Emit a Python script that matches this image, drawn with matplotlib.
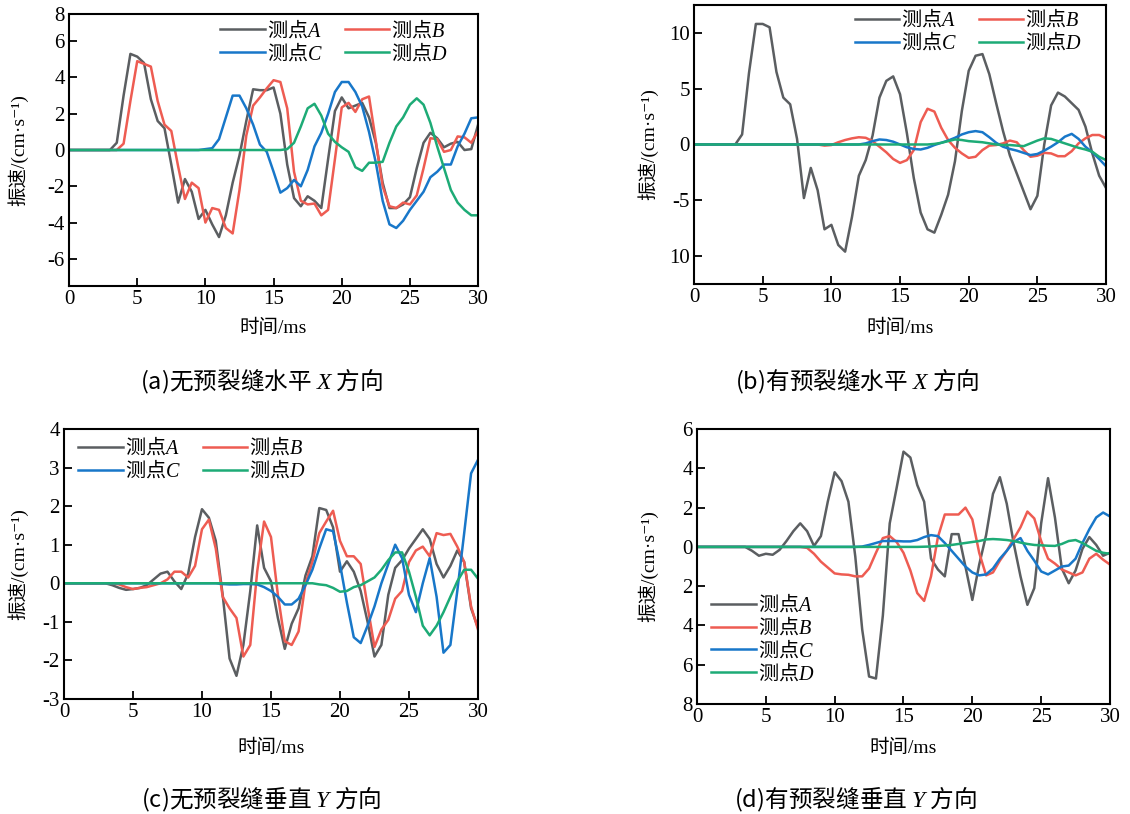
import numpy as np
import matplotlib
matplotlib.use("Agg")
import matplotlib.pyplot as plt
import matplotlib.transforms as mtransforms

plt.rcParams['font.family'] = ['Liberation Serif', 'Noto Sans CJK SC', 'DejaVu Serif']
plt.rcParams['mathtext.fontset'] = 'custom'
plt.rcParams['mathtext.rm'] = 'Liberation Serif'
plt.rcParams['mathtext.it'] = 'Liberation Serif:italic'
plt.rcParams['axes.unicode_minus'] = False

# time axis, ms (0.5 ms sampling)
t = np.arange(0, 30.5, 0.5)

# (a) no pre-crack, horizontal X
a_A = [0, 0, 0, 0, 0, 0, 0,
       0.4, 3.0, 5.3, 5.15, 4.8, 2.8, 1.6, 1.2, -0.8, -2.9,
       -1.6, -2.3, -3.8, -3.3, -4.1, -4.8, -3.6, -1.8, -0.3, 1.6,
       3.35, 3.3, 3.3, 3.45, 2.0, -0.8, -2.65, -3.1, -2.55, -2.8,
       -3.2, -0.5, 2.15, 2.9, 2.3, 2.45, 2.6, 1.8, 0.4, -1.8,
       -3.2, -3.2, -3.0, -2.6, -1.0, 0.4, 0.95, 0.65, 0.15, 0.35,
       0.45, 0.0, 0.05, 1.4]
a_B = [0, 0, 0, 0, 0, 0, 0, 0,
       0.35, 2.7, 4.9, 4.75, 4.6, 2.7, 1.4, 1.05, -0.9, -2.7,
       -1.8, -2.1, -4.0, -3.2, -3.3, -4.3, -4.6, -2.2, 0.8, 2.45,
       2.9, 3.4, 3.85, 3.75, 2.3, -1.2, -2.8, -3.0, -2.95, -3.6,
       -3.3, -0.5, 2.35, 2.6, 2.1, 2.8, 2.95, 0.5, -2.0, -3.1,
       -3.2, -2.9, -3.0, -2.5, -1.0, 0.65, 0.6, -0.1, 0.0, 0.75,
       0.7, 0.4, 1.05]
a_C = [0, 0, 0, 0, 0, 0, 0, 0, 0, 0, 0, 0, 0, 0, 0, 0, 0, 0, 0, 0,
       0.05, 0.1, 0.6, 1.8, 3.0, 3.0, 2.3, 1.4, 0.3, -0.1,
       -1.2, -2.35, -2.1, -1.65, -2.0, -1.1, 0.2, 0.95, 2.0, 3.2,
       3.75, 3.75, 3.2, 2.4, 1.0, -0.7, -2.8, -4.1, -4.3, -3.9,
       -3.3, -2.8, -2.3, -1.5, -1.2, -0.8, -0.8, 0.2, 0.9, 1.75,
       1.8]
a_D = [0, 0, 0, 0, 0, 0, 0, 0, 0, 0, 0, 0, 0, 0, 0, 0,
       0, 0, 0, 0, 0, 0, 0, 0, 0, 0, 0, 0, 0, 0, 0, 0,
       0.05, 0.4, 1.3, 2.3, 2.55, 1.9, 0.9, 0.45, 0.15, -0.1,
       -0.95, -1.15, -0.7, -0.7, -0.65, 0.4, 1.3, 1.8, 2.5, 2.85,
       2.5, 1.5, 0.2, -1.0, -2.2, -2.9, -3.3, -3.6, -3.6]

# (b) with pre-crack, horizontal X
b_A = [0, 0, 0, 0, 0, 0, 0,
       0.9, 6.4, 10.8, 10.8, 10.5, 6.5, 4.2, 3.6, 0.5, -4.8,
       -2.1, -4.1, -7.6, -7.2, -9.0, -9.6, -6.5, -2.8, -1.4, 0.8,
       4.2, 5.7, 6.1, 4.5, 1.0, -3.0, -6.1, -7.6, -7.9, -6.3,
       -4.5, -1.5, 3.0, 6.6, 7.95, 8.1, 6.3, 3.7, 1.2, -1.0,
       -2.6, -4.2, -5.8, -4.6, 0.0, 3.5, 4.65, 4.3, 3.7, 3.1,
       1.6, -0.8, -2.8, -3.9]
b_B = [0, 0, 0, 0, 0, 0, 0, 0, 0, 0, 0, 0, 0, 0, 0, 0, 0, 0, 0,
       -0.1, -0.05, 0.2, 0.4, 0.55, 0.65, 0.6, 0.3, -0.2, -0.7,
       -1.3, -1.65, -1.4, -0.5, 2.0, 3.2, 2.95, 1.5, 0.4, -0.3,
       -0.8, -1.2, -1.1, -0.5, -0.1, -0.05, 0.1, 0.35, 0.2, -0.5,
       -1.1, -1.0, -0.75, -0.8, -1.05, -1.05, -0.6, 0.1, 0.55, 0.85,
       0.85, 0.55]
b_C = [0, 0, 0, 0, 0, 0, 0, 0, 0, 0, 0, 0, 0, 0, 0, 0, 0, 0, 0, 0, 0, 0, 0, 0,
       0.0, 0.1, 0.3, 0.45, 0.4, 0.25, 0.0, -0.25, -0.4, -0.45,
       -0.3, -0.05, 0.15, 0.35, 0.6, 0.9, 1.1, 1.2, 1.1, 0.65,
       0.15, -0.2, -0.4, -0.55, -0.75, -0.95, -0.85, -0.55, -0.2, 0.2,
       0.7, 0.95, 0.5, -0.2, -0.7, -1.3, -1.95]
b_D = [0, 0, 0, 0, 0, 0, 0, 0, 0, 0, 0, 0, 0, 0, 0, 0, 0, 0,
       0, 0, 0, 0, 0, 0, 0, 0, 0, 0, 0, 0, 0, 0, 0, 0, 0,
       0.05, 0.15, 0.3, 0.45, 0.4, 0.3, 0.25, 0.2, 0.1, 0.0,
       -0.05, -0.05, -0.1, -0.15, 0.1, 0.35, 0.55, 0.5, 0.3, 0.1,
       -0.1, -0.3, -0.45, -0.65, -1.1, -1.4]

# (c) no pre-crack, vertical Y
c_A = [0, 0, 0, 0, 0, 0, 0,
       -0.05, -0.12, -0.17, -0.15, -0.12, -0.05, 0.1, 0.25, 0.3, 0.05,
       -0.15, 0.25, 1.2, 1.92, 1.7, 1.1, -0.3, -1.95, -2.4, -1.6,
       -0.2, 1.5, 0.4, 0.05, -0.9, -1.7, -1.05, -0.65, 0.2, 0.7,
       1.95, 1.9, 1.45, 0.3, 0.57, 0.3, -0.2, -1.0, -1.9, -1.6,
       -0.3, 0.4, 0.6, 0.9, 1.15, 1.4, 1.15, 0.5, 0.15, 0.45,
       0.85, 0.55, -0.65, -1.15]
c_B = [0, 0, 0, 0, 0, 0, 0, 0,
       -0.03, -0.1, -0.15, -0.12, -0.1, -0.05, 0.0, 0.1, 0.3, 0.3,
       0.15, 0.45, 1.4, 1.65, 0.9, -0.35, -0.65, -0.9, -1.9, -1.6,
       0.3, 1.6, 1.2, -0.3, -1.5, -1.6, -1.25, 0.0, 0.55, 1.3,
       1.6, 1.88, 1.1, 0.7, 0.7, 0.5, -0.6, -1.65, -1.2, -0.95,
       -0.4, -0.2, 0.55, 0.85, 0.95, 0.7, 1.3, 1.25, 1.28, 0.95,
       0.55, -0.6, -1.2]
c_C = [0, 0, 0, 0, 0, 0, 0, 0, 0, 0, 0, 0, 0, 0, 0, 0, 0, 0, 0, 0, 0, 0, 0,
       -0.02, -0.03, -0.03, -0.02, -0.02, -0.03, -0.1, -0.2, -0.35, -0.55,
       -0.55, -0.4, -0.05, 0.35, 0.9, 1.4, 1.35, 0.5, -0.5, -1.4,
       -1.55, -1.1, -0.6, 0.0, 0.5, 1.0, 0.65, -0.3, -0.75, 0.0,
       0.65, -0.35, -1.8, -1.6, -0.2, 1.3, 2.85, 3.2]
c_D = [0, 0, 0, 0, 0, 0, 0, 0, 0, 0, 0, 0, 0, 0, 0, 0, 0, 0, 0,
       0, 0, 0, 0, 0, 0, 0, 0, 0, 0, 0, 0, 0, 0, 0, 0, 0, 0,
       -0.03, -0.05, -0.12, -0.22, -0.2, -0.1, -0.05, 0.05, 0.15, 0.35,
       0.6, 0.8, 0.8, 0.3, -0.35, -1.1, -1.35, -1.1, -0.75, -0.35,
       0.05, 0.35, 0.35, 0.12]

# (d) with pre-crack, vertical Y
d_A = [0, 0, 0, 0, 0, 0, 0, 0,
       -0.2, -0.45, -0.35, -0.4, -0.15, 0.3, 0.8, 1.2, 0.8, 0.05,
       0.55, 2.3, 3.8, 3.35, 2.3, -0.5, -4.2, -6.6, -6.7, -3.5,
       1.2, 3.0, 4.85, 4.55, 3.15, 2.3, -0.6, -1.15, -1.5, 0.65,
       0.65, -1.0, -2.7, -0.9, 0.6, 2.7, 3.55, 2.2, 0.2, -1.5,
       -2.95, -2.1, 1.2, 3.5, 1.5, -1.1, -1.85, -1.2, -0.1, 0.5,
       0.1, -0.45, -0.3]
d_B = [0, 0, 0, 0, 0, 0, 0, 0, 0, 0, 0, 0, 0, 0, 0, 0,
       -0.05, -0.35, -0.75, -1.05, -1.35, -1.4, -1.42, -1.5, -1.5, -1.1,
       -0.3, 0.45, 0.55, 0.25, -0.3, -1.2, -2.35, -2.75, -1.5, 0.5,
       1.65, 1.65, 1.65, 2.0, 1.4, -0.3, -1.45, -1.3, -0.7, -0.2,
       0.4, 1.0, 1.8, 1.45, 0.3, -0.6, -0.85, -1.15, -1.3, -1.45,
       -1.3, -0.6, -0.35, -0.65, -0.9]
d_C = [0, 0, 0, 0, 0, 0, 0, 0, 0, 0, 0, 0, 0, 0, 0, 0, 0, 0, 0, 0, 0, 0, 0, 0,
       0.02, 0.1, 0.2, 0.3, 0.3, 0.3, 0.28, 0.28, 0.35, 0.5,
       0.6, 0.55, 0.2, -0.2, -0.6, -1.0, -1.3, -1.45, -1.4, -1.1,
       -0.6, -0.2, 0.25, 0.45, -0.2, -0.7, -1.25, -1.4, -1.2, -1.0,
       -0.95, -0.6, 0.2, 0.9, 1.5, 1.75, 1.55]
d_D = [0, 0, 0, 0, 0, 0, 0, 0, 0, 0, 0, 0, 0, 0, 0, 0, 0,
       0, 0, 0, 0, 0, 0, 0, 0, 0, 0, 0, 0, 0, 0, 0, 0,
       0.01, 0.02, 0.05, 0.07, 0.1, 0.15, 0.2, 0.25, 0.3, 0.38,
       0.4, 0.38, 0.35, 0.3, 0.22, 0.15, 0.1, 0.08, 0.06, 0.05,
       0.15, 0.3, 0.35, 0.2, 0.0, -0.2, -0.3, -0.35]

names = ['测点$\\mathit{A}$', '测点$\\mathit{B}$', '测点$\\mathit{C}$', '测点$\\mathit{D}$']
colors = ['#5b5e61', '#ee5c52', '#1877c9', '#1dab76']

captions = ['(a)无预裂缝水平 $\\mathit{X}$ 方向', '(b)有预裂缝水平 $\\mathit{X}$ 方向',
            '(c)无预裂缝垂直 $\\mathit{Y}$ 方向', '(d)有预裂缝垂直 $\\mathit{Y}$ 方向']

a_yticks = [-6, -4, -2, 0, 2, 4, 6, 7.5]
a_ylabels = ['-6', '-4', '-2', '0', '2', '4', '6', '8']
b_yticks = [-10, -5, 0, 5, 10]
b_ylabels = ['10', '-5', '0', '5', '10']
c_yticks = [-3, -2, -1, 0, 1, 2, 3, 4]
c_ylabels = ['-3', '-2', '-1', '0', '1', '2', '3', '4']
d_yticks = [-8, -6, -4, -2, 0, 2, 4, 6]
d_ylabels = ['8', '6', '4', '2', '0', '2', '4', '6']

panels = [
    dict(data=[a_A, a_B, a_C, a_D], rect=[0.0611, 0.6486, 0.3620, 0.3342], ylim=(-7.5, 7.5),
         yt=a_yticks, yl=a_ylabels, leg=dict(bbox=(0.365, 0.99), ncol=2),
         cap=(0.231, 0.514), ylab_x=0.025, xlab_y=0.608),
    dict(data=[b_A, b_B, b_C, b_D], rect=[0.6142, 0.6511, 0.3646, 0.3428], ylim=(-12.5, 12.5),
         yt=b_yticks, yl=b_ylabels, leg=dict(bbox=(0.385, 0.995), ncol=2),
         cap=(0.759, 0.514), ylab_x=0.583, xlab_y=0.608),
    dict(data=[c_A, c_B, c_C, c_D], rect=[0.0566, 0.1413, 0.3664, 0.3317], ylim=(-3, 4),
         yt=c_yticks, yl=c_ylabels, leg=dict(bbox=(0.03, 0.98), ncol=2),
         cap=(0.231, 0.0), ylab_x=0.025, xlab_y=0.092),
    dict(data=[d_A, d_B, d_C, d_D], rect=[0.6168, 0.1351, 0.3655, 0.3378], ylim=(-8, 6),
         yt=d_yticks, yl=d_ylabels, leg=dict(bbox=(0.03, 0.41), ncol=1),
         cap=(0.757, 0.0), ylab_x=0.583, xlab_y=0.092),
]

cjk = ['Noto Sans CJK SC', 'DejaVu Sans']

fig = plt.figure(figsize=(11.3, 8.14), dpi=100)

for i, p in enumerate(panels):
    ax = fig.add_axes(p['rect'])
    lines = []
    for y, c, n in zip(p['data'], colors, names):
        ln, = ax.plot(t, y, color=c, lw=1.8, label=n)
        lines.append(ln)
    ax.set_xlim(0, 30)
    ax.set_ylim(*p['ylim'])
    ax.set_xticks([0, 5, 10, 15, 20, 25, 30])
    ax.set_yticks(p['yt'])
    ax.set_yticklabels(p['yl'])
    ax.tick_params(direction='in', length=6, width=1.3, labelsize=15, pad=3)
    for s in ax.spines.values():
        s.set_linewidth(1.5)
    ax.set_xlabel('时间/ms', fontsize=14)
    ax.set_ylabel('振速/(cm·s⁻¹)', fontsize=14)
    ax.yaxis.set_label_coords(p['ylab_x'], 0.5,
                              transform=mtransforms.blended_transform_factory(fig.transFigure, ax.transAxes))
    ax.xaxis.set_label_coords(p['rect'][0] + p['rect'][2] / 2, p['xlab_y'], transform=fig.transFigure)

    lg = p['leg']
    if lg['ncol'] == 2:
        hs = [lines[0], lines[2], lines[1], lines[3]]
    else:
        hs = lines
    ax.legend(handles=hs, labels=[h.get_label() for h in hs], loc='upper left',
              bbox_to_anchor=lg['bbox'], ncol=lg['ncol'], frameon=False,
              prop=dict(family=cjk, size=14.5), handlelength=2.2, handletextpad=0.1,
              labelspacing=0.0, columnspacing=1.1, borderpad=0.1, borderaxespad=0)

    fig.text(p['cap'][0], p['cap'][1], captions[i], fontsize=17, ha='center', va='bottom',
             family=cjk)

fig.savefig('out.png', dpi=100)
